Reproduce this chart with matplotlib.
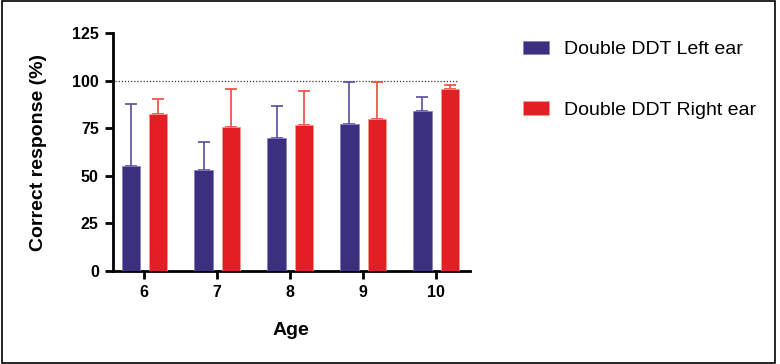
import numpy as np
import matplotlib.pyplot as plt
from matplotlib.patches import Rectangle

plt.rcParams['font.family'] = ['Liberation Sans', 'DejaVu Sans']

ages = [6, 7, 8, 9, 10]
left_mean = [55, 53, 70, 77.5, 84]
left_err = [32.5, 15, 16.5, 22, 7.5]
right_mean = [82.5, 75.5, 76.5, 80, 95.5]
right_err = [8, 20, 18, 19.5, 2.5]
series = ['Double DDT Left ear', 'Double DDT Right ear']

fig = plt.figure(figsize=(7.8, 3.64), dpi=100)
ax = fig.add_axes([0.1445, 0.2555, 0.4581, 0.6535])

x = np.array(ages)
w = 0.25
off = 0.187
ax.bar(x - off, left_mean, w, color='#3b2f80', edgecolor='#8c80c0', linewidth=0.6,
       label=series[0], zorder=3)
ax.bar(x + off, right_mean, w, color='#e31e24', edgecolor='#f49a8a', linewidth=0.6,
       label=series[1], zorder=3)
ax.errorbar(x - off, left_mean, yerr=[np.zeros(5), left_err], fmt='none',
            ecolor='#5a4c9e', elinewidth=1.2, capsize=4, capthick=1.2, zorder=2)
ax.errorbar(x + off, right_mean, yerr=[np.zeros(5), right_err], fmt='none',
            ecolor='#ee4a3a', elinewidth=1.2, capsize=4, capthick=1.2, zorder=2)

ax.plot([5.6, 10.3], [100, 100], ls=(0, (1, 1.5)), color='#333333', lw=0.9, zorder=1)

ax.set_xlim(5.567, 10.466)
ax.set_ylim(0, 125)
ax.set_yticks([0, 25, 50, 75, 100, 125])
ax.set_xticks(ages)
ax.spines['top'].set_visible(False)
ax.spines['right'].set_visible(False)
for s in ['left', 'bottom']:
    ax.spines[s].set_linewidth(2)
ax.tick_params(width=2, length=6, labelsize=11.5, pad=4)
for lab in ax.get_xticklabels() + ax.get_yticklabels():
    lab.set_fontweight('bold')
ax.set_xlabel('Age', fontsize=14, fontweight='bold', labelpad=16)
ax.set_ylabel('Correct response (%)', fontsize=14, fontweight='bold', labelpad=18)

ax.legend(loc='upper left', bbox_to_anchor=(0.670, 0.888), bbox_transform=fig.transFigure,
          frameon=False, fontsize=14, borderpad=0, borderaxespad=0,
          handlelength=1.35, handleheight=0.7, labelspacing=2.2, handletextpad=0.8)

fig.patches.append(Rectangle((0.002, 0.003), 0.992, 0.994, transform=fig.transFigure,
                             fill=False, edgecolor='black', linewidth=1.2))

fig.savefig('out.png', dpi=100)
